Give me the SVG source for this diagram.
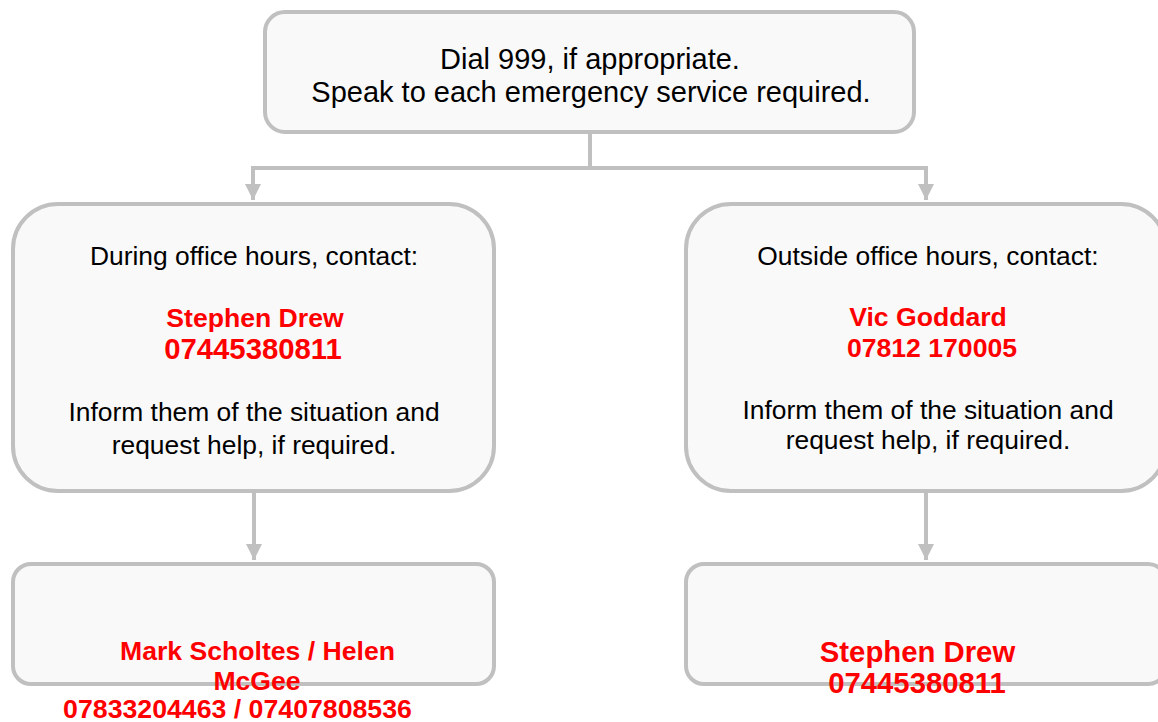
<svg xmlns="http://www.w3.org/2000/svg" width="1158" height="722" viewBox="0 0 1158 722">
<style>
.box{fill:#f9f9f9;stroke:#c0c0c0;stroke-width:4}
.t{font-family:"Liberation Sans",Arial,sans-serif;text-anchor:middle;fill:#000}
.r{font-family:"Liberation Sans",Arial,sans-serif;text-anchor:middle;fill:#ff0000;font-weight:bold}
.c{fill:none;stroke:#c0c0c0;stroke-width:4}
</style>
<defs>
<marker id="ah" markerWidth="4" markerHeight="4" refX="4" refY="2" orient="auto" markerUnits="strokeWidth">
<path d="M0,0 L4,2 L0,4 Z" fill="#c0c0c0"/>
</marker>
</defs>
<rect width="1158" height="722" fill="#ffffff"/>
<g id="connectors">
<path class="c" d="M590,132 V168"/>
<path class="c" d="M253,168 H926"/>
<path class="c" d="M253,166 V200" marker-end="url(#ah)"/>
<path class="c" d="M926,166 V200" marker-end="url(#ah)"/>
<path class="c" d="M254,491 V560" marker-end="url(#ah)"/>
<path class="c" d="M926,491 V560" marker-end="url(#ah)"/>
</g>
<g id="top">
<rect class="box" x="265" y="12" width="649" height="120" rx="20"/>
<text class="t" x="590" y="69" font-size="29">Dial 999, if appropriate.</text>
<text class="t" x="591" y="102" font-size="29">Speak to each emergency service required.</text>
</g>
<g id="office">
<rect class="box" x="13" y="204" width="481" height="287" rx="45"/>
<text class="t" x="254" y="265" font-size="26.4">During office hours, contact:</text>
<text class="r" x="255" y="327" font-size="26.6">Stephen Drew</text>
<text class="r" x="253" y="359" font-size="29.3">07445380811</text>
<text class="t" x="254" y="421" font-size="26.4">Inform them of the situation and</text>
<text class="t" x="254" y="454" font-size="26.4">request help, if required.</text>
</g>
<g id="outside">
<rect class="box" x="686" y="204" width="480" height="287" rx="45"/>
<text class="t" x="928" y="265" font-size="26.4">Outside office hours, contact:</text>
<text class="r" x="928" y="326" font-size="26.6">Vic Goddard</text>
<text class="r" x="932" y="357" font-size="26.6">07812 170005</text>
<text class="t" x="928" y="419" font-size="26.4">Inform them of the situation and</text>
<text class="t" x="928" y="449" font-size="26.4">request help, if required.</text>
</g>
<g id="office-next">
<rect class="box" x="13" y="564" width="481" height="120" rx="18"/>
<text class="r" x="257.5" y="660" font-size="26.6">Mark Scholtes / Helen</text>
<text class="r" x="257" y="690" font-size="26.6">McGee</text>
<text class="r" x="237.5" y="718" font-size="26.7">07833204463 / 07407808536</text>
</g>
<g id="outside-next">
<rect class="box" x="686" y="564" width="480" height="120" rx="18"/>
<text class="r" x="917.5" y="662" font-size="29.3">Stephen Drew</text>
<text class="r" x="917" y="693" font-size="29.3">07445380811</text>
</g>
</svg>
